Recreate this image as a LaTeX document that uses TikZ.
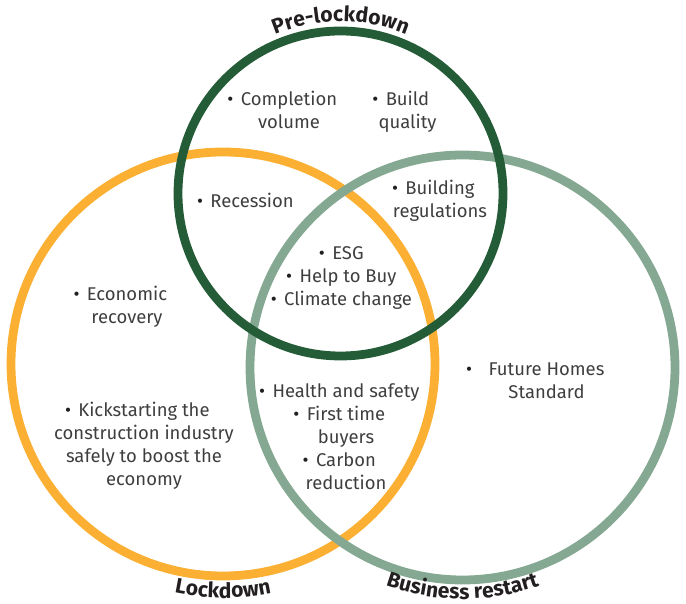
\documentclass[tikz,border=0pt]{standalone}
\usepackage{fontspec}
\setmainfont{Fira Sans}
\usepackage{tikz}
\usetikzlibrary{decorations.text}

\definecolor{preGreen}{RGB}{37,92,56}
\definecolor{lockOrange}{RGB}{251,176,52}
\definecolor{restartSage}{RGB}{132,168,145}
\definecolor{itemGrey}{RGB}{62,62,64}
\definecolor{titleInk}{RGB}{35,31,32}

%% hanging bullet, kept out of the centring of the line
\newcommand\bul[1][0.4em]{\llap{{\color{titleInk}\textbullet}\hspace{#1}}}

\begin{document}
\begin{tikzpicture}[
  x=0.02cm, y=0.02cm,
  ring/.style={line width=5pt},
  %% base sits on the last line of a wrapped item
  item/.style={align=center, anchor=base, inner sep=0pt, text=itemGrey,
               font=\fontsize{10.5}{13.1}\selectfont},
  ttl/.style={decorate, decoration={text along path, text align=center,
              text color=titleInk,
              text={|\bfseries\fontsize{12}{14}\selectfont|#1}}},
]
\useasboundingbox (0,0) rectangle (686,604);

%% ---- the three rings, orange under sage under green ----
\coordinate (cPre)     at (340.5,410.5);
\coordinate (cLock)    at (223,240);
\coordinate (cRestart) at (462.5,236.5);
\draw[ring, lockOrange]  (cLock)    circle[radius=212];
\draw[ring, restartSage] (cRestart) circle[radius=212.5];
\draw[ring, preGreen]    (cPre)     circle[radius=162.5];

%% ---- ring titles, bent round the outside ----
\path[ttl={Pre-lockdown}, shift={(cPre)}]
  (130:172) arc[start angle=130, end angle=50, radius=172];
\path[ttl={Lockdown}, shift={(cLock)}]
  (245:234) arc[start angle=245, end angle=295, radius=234];
\path[ttl={Business restart}, shift={(cRestart)}]
  (240:231.5) arc[start angle=240, end angle=300, radius=231.5];

%% ---- Pre-lockdown only ----
\node[item] (completion) at (289,475)   {\bul Completion\\volume};
\node[item] (buildq)     at (407.5,475) {\bul Build\\quality};

%% ---- overlaps with Pre-lockdown ----
\node[item] (recession) at (252,396) {\bul Recession};
\node[item] (buildregs) at (440,386) {\bul Building\\regulations};
\node[item] (allthree)  at (348,298)
  {\bul ESG\\\bul Help to Buy\\\bul Climate change};

%% ---- Lockdown only ----
\node[item] (econ) at (127,280) {\bul Economic\\recovery};
\node[item] (kick) at (144,118)
  {\bul Kickstarting the\\construction industry\\safely to boost the\\economy};

%% ---- Lockdown and Business restart ----
\node[item] (health) at (346,114)
  {\bul Health and safety\\\bul First time\\buyers\\\bul Carbon\\reduction};

%% ---- Business restart only ----
\node[item] (future) at (546.5,205) {\bul[0.9em]Future Homes\\Standard};
\end{tikzpicture}
\end{document}
